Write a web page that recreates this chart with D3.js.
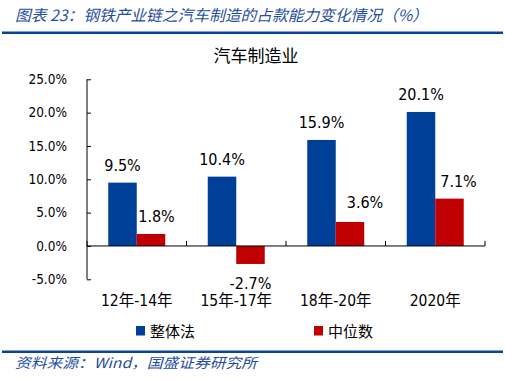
<!DOCTYPE html>
<html><head><meta charset="utf-8">
<script src="https://cdn.jsdelivr.net/npm/d3@7"></script>
<style>
html,body{margin:0;padding:0;background:#fff;}
svg{display:block;}
.num{font-family:"DejaVu Sans Condensed","Liberation Sans","Noto Sans CJK SC",sans-serif;}
.cjk{font-family:"Noto Sans CJK SC",sans-serif;}
</style></head><body>
<svg id="c" width="505" height="379"></svg>
<script>
const categories = ["12年-14年","15年-17年","18年-20年","2020年"];
const seriesNames = ["整体法","中位数"];
const overall = [9.5, 10.4, 15.9, 20.1];
const median = [1.8, -2.7, 3.6, 7.1];
const yTicks = [-5, 0, 5, 10, 15, 20, 25];
const headerText = "图表 23：钢铁产业链之汽车制造的占款能力变化情况（%）";
const chartTitle = "汽车制造业";
const sourceText = "资料来源：Wind，国盛证券研究所";

const colors = ["#003F98", "#C00000"];
const svg = d3.select("#c");
const pct = v => d3.format(".1f")(v).replace("\u2212","-") + "%";

// header
svg.append("text").attr("x",15).attr("y",21).attr("class","cjk")
  .attr("font-size",15.5).attr("font-style","italic").attr("fill","#1F4E9E")
  .attr("textLength",413).attr("lengthAdjust","spacingAndGlyphs")
  .text(headerText);
svg.append("rect").attr("x",2).attr("y",31.5).attr("width",501).attr("height",2.5).attr("fill","#0A4595");
svg.append("rect").attr("x",2).attr("y",350.5).attr("width",501).attr("height",2.5).attr("fill","#0A4595");
svg.append("text").attr("x",15).attr("y",368).attr("class","cjk")
  .attr("font-size",14).attr("font-style","italic").attr("fill","#1F4E9E")
  .attr("textLength",242).attr("lengthAdjust","spacingAndGlyphs")
  .text(sourceText);

// chart title
svg.append("text").attr("x",256).attr("y",62).attr("text-anchor","middle").attr("class","cjk")
  .attr("font-size",17).attr("fill","#000").text(chartTitle);

const x0 = d3.scaleBand().domain(categories).range([87,485]).paddingInner(0).paddingOuter(0);
const y = d3.scaleLinear().domain([-5,25]).range([279.3,79.3]);
const groupW = 57;
const x1 = d3.scaleBand().domain(seriesNames).range([0,groupW]);

// bars
const rows = categories.map((c,i)=>({c, vals:[overall[i], median[i]]}));
const g = svg.append("g");
rows.forEach(r=>{
  r.vals.forEach((v,j)=>{
    const bx = x0(r.c) + (x0.bandwidth()-groupW)/2 + x1(seriesNames[j]);
    g.append("rect").attr("x",bx).attr("width",x1.bandwidth())
      .attr("y",y(Math.max(0,v))).attr("height",Math.abs(y(v)-y(0)))
      .attr("fill",colors[j]);
  });
});

// y axis
const yAxis = d3.axisLeft(y).tickValues(yTicks).tickSize(-4).tickPadding(20)
  .tickFormat(pct);
const ya = svg.append("g").attr("transform","translate(87,0)").call(yAxis);
ya.select(".domain").attr("stroke","#000").attr("d","M0,79.3V279.3");
ya.selectAll(".tick line").attr("stroke","#000");
ya.selectAll(".tick text").attr("class","num").attr("font-size",13.5).attr("fill","#000");

// x axis at zero
const xa = svg.append("g").attr("transform",`translate(0,${y(0)})`)
  .call(d3.axisBottom(x0).tickSize(0).tickFormat(""));
xa.select(".domain").attr("stroke","#000").attr("d","M87,0H485");
const tickXs = d3.range(categories.length+1).map(i=>87 + i*x0.bandwidth());
xa.selectAll("line.bt").data(tickXs).enter().append("line")
  .attr("x1",d=>d).attr("x2",d=>d).attr("y1",0).attr("y2",-5).attr("stroke","#000");

// x labels
svg.append("g").selectAll("text").data(categories).enter().append("text")
  .attr("class","num").attr("font-size",15.5).attr("text-anchor","middle")
  .attr("x",d=>x0(d)+x0.bandwidth()/2).attr("y",305.5).attr("fill","#000").text(d=>d);

// data labels
const labelNudge = [[[0,0],[0,0],[0,0],[0,0]],[[5.5,0],[0,0],[15,-2],[9,0]]];
rows.forEach((r,i)=>{
  r.vals.forEach((v,j)=>{
    const cx = x0(r.c) + (x0.bandwidth()-groupW)/2 + x1(seriesNames[j]) + x1.bandwidth()/2;
    const ty = v>=0 ? y(v)-11.7 : y(v)+25;
    svg.append("text").attr("class","num").attr("font-size",16).attr("text-anchor","middle")
      .attr("x",cx+labelNudge[j][i][0]).attr("y",ty+labelNudge[j][i][1]).attr("fill","#000")
      .text(pct(v));
  });
});

// legend
const leg = [{x:136,t:seriesNames[0],c:colors[0]},{x:314,t:seriesNames[1],c:colors[1]}];
leg.forEach(l=>{
  svg.append("rect").attr("x",l.x).attr("y",326).attr("width",9).attr("height",9.5).attr("fill",l.c);
  svg.append("text").attr("class","cjk").attr("x",l.x+14).attr("y",336.5).attr("font-size",15)
    .attr("fill","#000").text(l.t);
});
</script></body></html>
